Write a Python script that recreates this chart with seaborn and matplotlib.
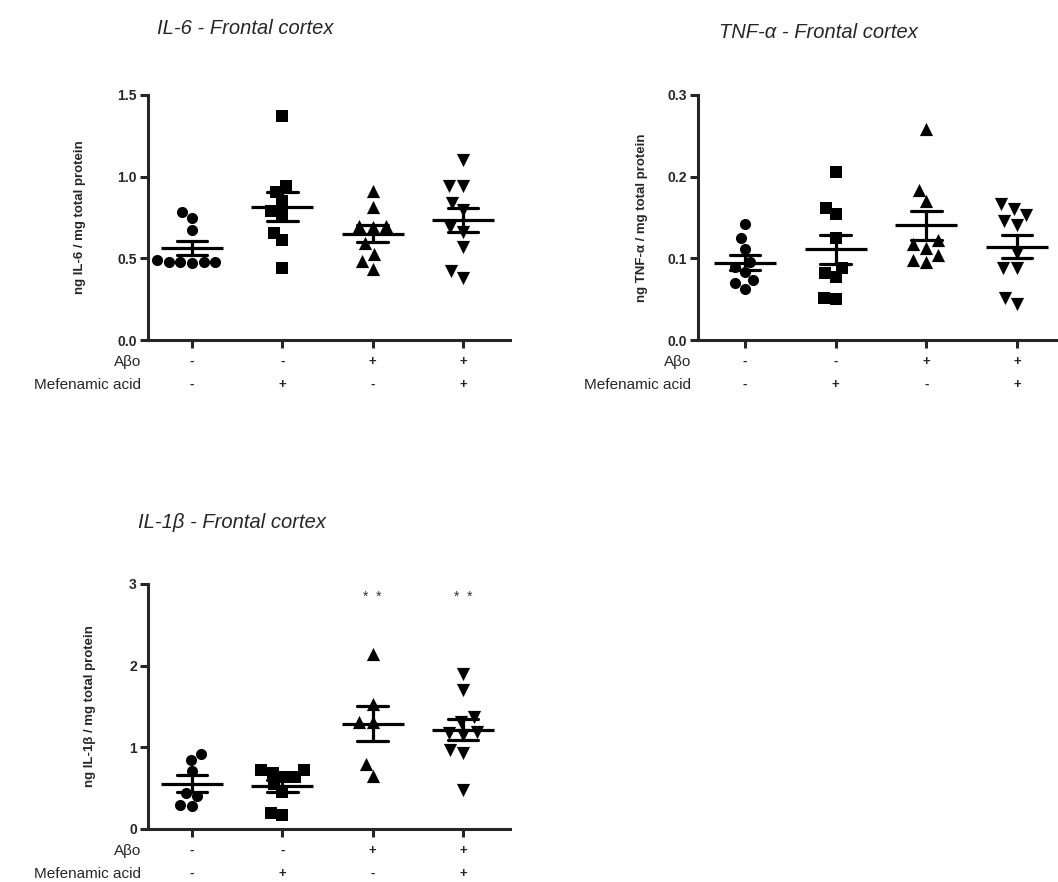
import matplotlib
matplotlib.use("Agg")
import matplotlib.pyplot as plt
import matplotlib.transforms as mtransforms
import seaborn as sns
import pandas as pd
import numpy as np

# groups (x positions) and treatment rows
groups = ["ctrl", "mef", "abo", "abo_mef"]
abo_signs = ["-", "-", "+", "+"]
mef_signs = ["-", "+", "-", "+"]
markers = ["o", "s", "^", "v"]
marker_sizes = [8, 8, 9.5, 9.5]

# IL-6 values (ng / mg total protein)
il6_ctrl = [0.48, 0.476, 0.469, 0.476, 0.48, 0.49, 0.749, 0.786, 0.674]
il6_mef = [1.372, 0.943, 0.908, 0.851, 0.792, 0.771, 0.657, 0.612, 0.443]
il6_abo = [0.912, 0.816, 0.70, 0.70, 0.69, 0.592, 0.527, 0.484, 0.433]
il6_abo_mef = [1.102, 0.943, 0.943, 0.841, 0.796, 0.694, 0.663, 0.571, 0.422, 0.378]

# TNF-alpha values
tnf_ctrl = [0.142, 0.125, 0.112, 0.090, 0.095, 0.083, 0.073, 0.070, 0.063]
tnf_mef = [0.206, 0.162, 0.154, 0.125, 0.0886, 0.0824, 0.0776, 0.0502, 0.0518]
tnf_abo = [0.258, 0.184, 0.170, 0.122, 0.117, 0.113, 0.104, 0.096, 0.098]
tnf_abo_mef = [0.167, 0.161, 0.153, 0.146, 0.141, 0.106, 0.0877, 0.0877, 0.0437, 0.051]

# IL-1beta values
il1b_ctrl = [0.914, 0.845, 0.71, 0.445, 0.404, 0.282, 0.294]
il1b_mef = [0.722, 0.686, 0.637, 0.637, 0.722, 0.55, 0.45, 0.171, 0.196]
il1b_abo = [2.143, 1.53, 1.314, 1.314, 0.792, 0.653]
il1b_abo_mef = [1.9, 1.70, 1.37, 1.31, 1.19, 1.17, 1.15, 0.97, 0.93, 0.48]


def to_frame(*series):
    rows = []
    for g, vals in zip(groups, series):
        for v in vals:
            rows.append({"group": g, "value": v})
    return pd.DataFrame(rows)


df_il6 = to_frame(il6_ctrl, il6_mef, il6_abo, il6_abo_mef)
df_tnf = to_frame(tnf_ctrl, tnf_mef, tnf_abo, tnf_abo_mef)
df_il1b = to_frame(il1b_ctrl, il1b_mef, il1b_abo, il1b_abo_mef)

sns.set_style("ticks")
plt.rcParams["font.family"] = ["Liberation Sans", "DejaVu Sans"]

fig = plt.figure(figsize=(10.58, 8.82), dpi=100)
ax1 = fig.add_axes([0.1399, 0.6145, 0.3422, 0.2778])
ax2 = fig.add_axes([0.6597, 0.6145, 0.3384, 0.2778])
ax3 = fig.add_axes([0.1399, 0.0601, 0.3422, 0.2778])


def draw_panel(ax, df, ymax, yticks, ytick_fmt, ylabel, title, xlim, title_x, title_y, label_x):
    for g, m, ms in zip(groups, markers, marker_sizes):
        sns.swarmplot(data=df[df["group"] == g], x="group", y="value", order=groups,
                      marker=m, color="black", size=ms, linewidth=0, ax=ax)
    sns.pointplot(data=df, x="group", y="value", order=groups, errorbar="se",
                  capsize=0.34, color="black", linestyle="none", marker="_",
                  markersize=45, markeredgewidth=2.3, err_kws={"linewidth": 2.3},
                  ax=ax)
    ax.set_ylim(0, ymax)
    ax.set_xlim(*xlim)
    ax.set_yticks(yticks)
    ax.set_yticklabels([ytick_fmt.format(t) for t in yticks], fontsize=10, fontweight="bold")
    ax.set_xticks(range(len(groups)))
    ax.set_xticklabels([])
    ax.set_xlabel("")
    ax.set_ylabel(ylabel, fontsize=9.5, fontweight="bold")
    ax.yaxis.set_label_coords(label_x, 0.5)
    sns.despine(ax=ax)
    for s in ["left", "bottom"]:
        ax.spines[s].set_linewidth(2.2)
    ax.tick_params(width=2.2, length=6, direction="out", pad=2)

    trans = mtransforms.blended_transform_factory(ax.transData, ax.transAxes)
    for i, (a, b) in enumerate(zip(abo_signs, mef_signs)):
        ax.text(i, -0.09, a, transform=trans, ha="center", va="center", fontsize=9.5, fontweight="bold")
        ax.text(i, -0.184, b, transform=trans, ha="center", va="center", fontsize=9.5, fontweight="bold")
    ax.text(-0.02, -0.09, "Aβo", transform=ax.transAxes, ha="right", va="center", fontsize=11)
    ax.text(-0.02, -0.184, "Mefenamic acid", transform=ax.transAxes, ha="right", va="center", fontsize=11)

    fig.text(title_x, title_y, title, ha="center", va="center", fontsize=14.5, style="italic")


draw_panel(ax1, df_il6, 1.5, [0.0, 0.5, 1.0, 1.5], "{:.1f}", "ng IL-6 / mg total protein",
           "IL-6 - Frontal cortex", (-0.487, 3.52), 245 / 1058, 1 - 28 / 882, -0.171)
draw_panel(ax2, df_tnf, 0.3, [0.0, 0.1, 0.2, 0.3], "{:.1f}", "ng TNF-α / mg total protein",
           "TNF-α - Frontal cortex", (-0.518, 3.43), 818 / 1058, 1 - 33 / 882, -0.14)
draw_panel(ax3, df_il1b, 3, [0, 1, 2, 3], "{:d}", "ng IL-1β / mg total protein",
           "IL-1β - Frontal cortex", (-0.487, 3.52), 232 / 1058, 1 - 523 / 882, -0.144)

# significance marks
for i in [2, 3]:
    ax3.text(i, 2.84, "*  *", ha="center", va="center", fontsize=10, color="#333333")

fig.savefig("out.png", dpi=100)
